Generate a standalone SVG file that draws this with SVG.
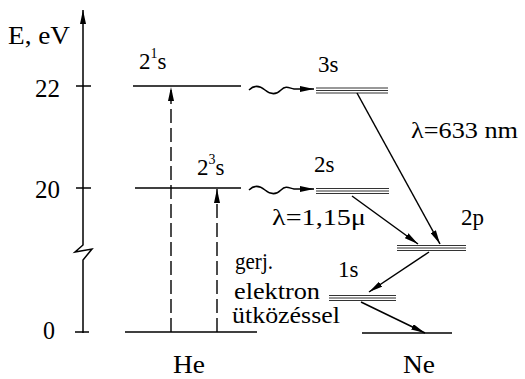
<svg xmlns="http://www.w3.org/2000/svg" width="525" height="379" viewBox="0 0 525 379">
<defs>
<style>
text{font-family:"Liberation Serif","Times New Roman",serif;fill:#000}
.lbl{font-size:25px}
.sm{font-size:23px}
.sup{font-size:14px}
.ln{stroke:#000;stroke-width:1.5;fill:none}
.dash{stroke:#000;stroke-width:1.4;fill:none;stroke-dasharray:14 5}
.tri{stroke:#333;stroke-width:1.1;fill:none}
</style>
<marker id="ah" viewBox="0 0 14 6" refX="14" refY="3" markerWidth="14" markerHeight="6" markerUnits="userSpaceOnUse" orient="auto">
<path d="M0,0 L14,3 L0,6 z" fill="#000"/>
</marker>
</defs>
<rect width="525" height="379" fill="#fff"/>

<g id="axis">
<path class="ln" d="M83,333 L83,260 L92,249 L75,252 L83,245 L83,10" marker-end="url(#ah)"/>
<line class="ln" x1="76" y1="86" x2="91" y2="86"/>
<line class="ln" x1="76" y1="188" x2="91" y2="188"/>
<line class="ln" x1="75" y1="332" x2="89" y2="332"/>
<text class="lbl" x="8" y="44" textLength="62" lengthAdjust="spacingAndGlyphs">E, eV</text>
<text class="lbl" x="35" y="97" textLength="25" lengthAdjust="spacingAndGlyphs">22</text>
<text class="lbl" x="35" y="198" textLength="25" lengthAdjust="spacingAndGlyphs">20</text>
<text class="lbl" x="43" y="339" textLength="12" lengthAdjust="spacingAndGlyphs">0</text>
</g>

<g id="he-21s">
<line class="ln" x1="133" y1="86" x2="241" y2="86"/>
<text class="sm" x="139" y="69">2<tspan class="sup" dy="-11">1</tspan><tspan dy="11">s</tspan></text>
</g>
<g id="he-23s">
<line class="ln" x1="135" y1="188" x2="241" y2="188"/>
<text class="sm" x="197" y="175">2<tspan class="sup" dy="-11">3</tspan><tspan dy="11">s</tspan></text>
</g>
<g id="he-ground">
<line class="ln" x1="125" y1="332" x2="257" y2="332"/>
<text class="lbl" x="173" y="373" textLength="32" lengthAdjust="spacingAndGlyphs">He</text>
</g>

<g id="ne-3s">
<line class="tri" x1="316" y1="88" x2="388" y2="88"/>
<line class="tri" x1="316" y1="90.5" x2="388" y2="90.5"/>
<line class="tri" x1="316" y1="93" x2="388" y2="93"/>
<text class="sm" x="318" y="72">3s</text>
</g>
<g id="ne-2s">
<line class="tri" x1="316" y1="188.5" x2="389" y2="188.5"/>
<line class="tri" x1="316" y1="191" x2="389" y2="191"/>
<line class="tri" x1="316" y1="193.5" x2="389" y2="193.5"/>
<text class="sm" x="314" y="172">2s</text>
</g>
<g id="ne-2p">
<line class="tri" x1="397" y1="245.5" x2="466" y2="245.5"/>
<line class="tri" x1="397" y1="248" x2="466" y2="248"/>
<line class="tri" x1="397" y1="250.5" x2="466" y2="250.5"/>
<text class="sm" x="461" y="225">2p</text>
</g>
<g id="ne-1s">
<line class="tri" x1="329" y1="295.5" x2="396" y2="295.5"/>
<line class="tri" x1="329" y1="298" x2="396" y2="298"/>
<line class="tri" x1="329" y1="300.5" x2="396" y2="300.5"/>
<text class="sm" x="338" y="277">1s</text>
</g>
<g id="ne-ground">
<line class="ln" x1="362" y1="333" x2="452" y2="333"/>
<text class="lbl" x="403" y="373" textLength="32" lengthAdjust="spacingAndGlyphs">Ne</text>
</g>

<g id="labels">
<text class="sm" x="411" y="138" textLength="107" lengthAdjust="spacingAndGlyphs">λ=633 nm</text>
<text class="sm" x="272" y="225" textLength="94" lengthAdjust="spacingAndGlyphs">λ=1,15μ</text>
<text class="sm" x="235" y="269" textLength="38" lengthAdjust="spacingAndGlyphs">gerj.</text>
<text class="sm" x="234" y="299" textLength="86" lengthAdjust="spacingAndGlyphs">elektron</text>
<text class="sm" x="232" y="323" textLength="108" lengthAdjust="spacingAndGlyphs">ütközéssel</text>
</g>

<g id="connectors">
<line class="dash" x1="171" y1="332" x2="171" y2="87" marker-end="url(#ah)"/>
<line class="dash" x1="217" y1="332" x2="217" y2="189" marker-end="url(#ah)"/>
<path class="ln" d="M249,90 c5,-5 10,-5 16,0 s11,5 16,0 s8,-2 13,-1 L314,89" marker-end="url(#ah)"/>
<path class="ln" d="M249,190 c5,-5 10,-5 16,0 s11,5 16,0 s8,-2 13,-1 L314,189" marker-end="url(#ah)"/>
<line class="ln" x1="357" y1="93" x2="440" y2="244" marker-end="url(#ah)"/>
<line class="ln" x1="352" y1="196" x2="418" y2="244" marker-end="url(#ah)"/>
<line class="ln" x1="429" y1="252" x2="369" y2="292" marker-end="url(#ah)"/>
<line class="ln" x1="361" y1="302" x2="425" y2="333" marker-end="url(#ah)"/>
</g>
</svg>
